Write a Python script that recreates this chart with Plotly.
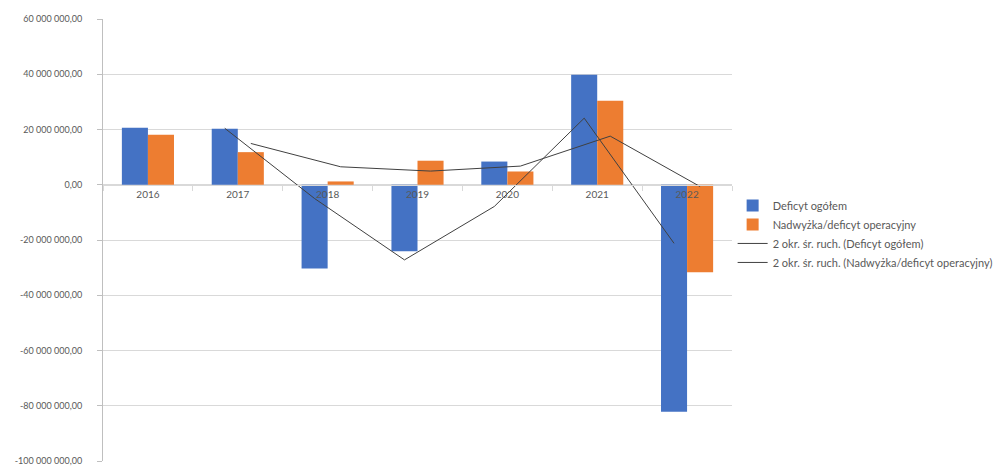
import plotly.graph_objects as go

years = ["2016", "2017", "2018", "2019", "2020", "2021", "2022"]
deficyt = [20.6e6, 20.3e6, -30.3e6, -24.1e6, 8.4e6, 39.8e6, -82.2e6]
nadwyzka = [18.1e6, 11.8e6, 1.2e6, 8.7e6, 4.8e6, 30.4e6, -31.7e6]
ma_years = ["2017", "2018", "2019", "2020", "2021", "2022"]
ma_deficyt = [20.45e6, -5.0e6, -27.2e6, -7.85e6, 24.1e6, -21.2e6]
ma_nadwyzka = [14.95e6, 6.5e6, 4.95e6, 6.75e6, 17.6e6, -0.65e6]
ytick_vals = [60e6, 40e6, 20e6, 0, -20e6, -40e6, -60e6, -80e6, -100e6]
ytick_text = ["60 000 000,00", "40 000 000,00", "20 000 000,00", "0,00",
              "-20 000 000,00", "-40 000 000,00", "-60 000 000,00",
              "-80 000 000,00", "-100 000 000,00"]

FONT = "Lato, 'Open Sans', sans-serif"
TXT = "#595959"

fig = go.Figure()
fig.add_trace(go.Bar(x=years, y=deficyt, name="Deficyt ogółem",
                     marker=dict(color="#4472C4", line=dict(width=0)),
                     offsetgroup="a"))
fig.add_trace(go.Bar(x=years, y=nadwyzka, name="Nadwyżka/deficyt operacyjny",
                     marker=dict(color="#ED7D31", line=dict(width=0)),
                     offsetgroup="b"))
fig.add_trace(go.Scatter(x=ma_years, y=ma_deficyt, mode="lines",
                         name="2 okr. śr. ruch. (Deficyt ogółem)",
                         line=dict(color="#404040", width=1), offsetgroup="a"))
fig.add_trace(go.Scatter(x=ma_years, y=ma_nadwyzka, mode="lines",
                         name="2 okr. śr. ruch. (Nadwyżka/deficyt operacyjny)",
                         line=dict(color="#404040", width=1), offsetgroup="b"))

fig.update_layout(
    width=997, height=460,
    margin=dict(l=95, r=270, t=11, b=7),
    paper_bgcolor="white", plot_bgcolor="white",
    barmode="group", bargap=0.42, bargroupgap=0,
    scattermode="group", scattergap=0.42,
    font=dict(family=FONT, size=10, color=TXT),
    showlegend=True,
    legend=dict(x=1.001, y=0.611, xanchor="left", yanchor="top",
                font=dict(family=FONT, size=11, color=TXT),
                tracegroupgap=0, itemwidth=30, bgcolor="rgba(0,0,0,0)"),
    xaxis=dict(type="category", anchor="free", position=0.625,
               showline=True, linecolor="#d9d9d9", linewidth=1,
               ticks="outside", tickson="boundaries", ticklen=5,
               tickcolor="#d9d9d9", showgrid=False, zeroline=False,
               automargin=False,
               tickfont=dict(family=FONT, size=10, color=TXT)),
    yaxis=dict(range=[-100e6, 60e6], tickvals=ytick_vals, ticktext=ytick_text,
               showgrid=True, gridcolor="#d9d9d9", gridwidth=1,
               zeroline=False, showline=True, linecolor="#bfbfbf",
               ticks="outside", ticklen=5, tickcolor="#bfbfbf",
               ticklabelstandoff=13, automargin=False,
               tickfont=dict(family=FONT, size=9, color=TXT)),
)

fig.write_html("out.html")
